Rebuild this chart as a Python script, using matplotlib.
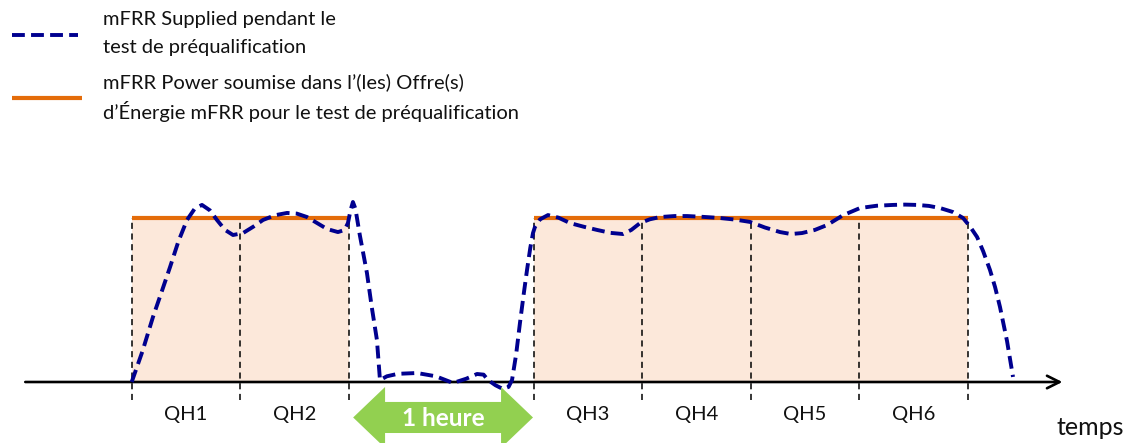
import matplotlib
matplotlib.use("Agg")
import matplotlib.pyplot as plt
from matplotlib.patches import Polygon, Rectangle
import numpy as np

# ---------------- data ----------------
qh_labels = ["QH1", "QH2", "QH3", "QH4", "QH5", "QH6"]
qh_starts = [0.0, 1.0, 3.7, 4.7, 5.7, 6.7]   # start of each quarter hour (QH units)
qh_width = 1.0
offer_power = 1.0                              # mFRR Power submitted in the offer
blocks = [(0.0, 2.0), (3.7, 7.7)]              # consecutive QHs with an offer

# mFRR supplied during the test
supplied_t = [0.0, 0.10, 0.196, 0.28, 0.353, 0.43, 0.509, 0.58, 0.647, 0.72, 0.785, 0.86, 0.933,
              1.025, 1.12, 1.209, 1.32, 1.43, 1.52, 1.614, 1.70, 1.798, 1.899, 1.96, 1.991,
              2.015, 2.037, 2.06, 2.10, 2.166, 2.21, 2.258, 2.286, 2.35, 2.45, 2.627, 2.80,
              2.959, 3.08, 3.180, 3.24, 3.281, 3.35, 3.419, 3.47, 3.502, 3.54, 3.575, 3.61,
              3.640, 3.67, 3.695, 3.713, 3.76, 3.833, 3.93, 4.036, 4.16, 4.285, 4.41, 4.524,
              4.60, 4.681, 4.77, 4.865, 5.0, 5.114, 5.26, 5.418, 5.56, 5.694, 5.83, 5.970,
              6.07, 6.172, 6.29, 6.403, 6.55, 6.706, 6.86, 7.010, 7.12, 7.231, 7.34, 7.443,
              7.56, 7.655, 7.72, 7.784, 7.84, 7.903, 7.95, 7.995, 8.06, 8.115]
supplied_p = [0.0, 0.19, 0.398, 0.56, 0.703, 0.86, 0.991, 1.06, 1.083, 1.05, 0.991, 0.93, 0.899,
              0.911, 0.95, 0.991, 1.02, 1.034, 1.03, 1.009, 0.975, 0.936, 0.917, 0.93, 0.972,
              1.05, 1.101, 1.06, 0.90, 0.667, 0.46, 0.257, 0.012, 0.035, 0.05, 0.055, 0.035,
              -0.006, 0.02, 0.049, 0.045, 0.012, -0.02, -0.043, -0.03, 0.012, 0.17, 0.361, 0.54,
              0.685, 0.82, 0.911, 0.948, 0.995, 1.021, 1.005, 0.972, 0.95, 0.930, 0.912, 0.905,
              0.93, 0.972, 0.995, 1.009, 1.015, 1.015, 1.01, 1.003, 0.993, 0.979, 0.945, 0.917,
              0.905, 0.911, 0.93, 0.960, 1.02, 1.064, 1.078, 1.083, 1.085, 1.083, 1.077, 1.064,
              1.04, 1.003, 0.95, 0.887, 0.80, 0.685, 0.58, 0.459, 0.25, 0.031]

legend_supplied = ["mFRR Supplied pendant le", "test de préqualification"]
legend_offer = ["mFRR Power soumise dans l\u2019(les) Offre(s)",
                "d\u2019Énergie mFRR pour le test de préqualification"]
gap_label = "1 heure"
xlabel = "temps"

# ---------------- style ----------------
BLUE = "#00008F"
ORANGE = "#E46C0A"
FILL = "#FCE8DA"
GREEN = "#92D050"
FONT = "Lato"
TXT = "#111111"

W, H = 1129, 443
fig = plt.figure(figsize=(W / 100, H / 100), dpi=100)
ax = fig.add_axes([0, 0, 1, 1])
ax.set_xlim(-1.2127, 9.183)
ax.set_ylim(-0.3731, 2.3364)
ax.axis("off")

# shaded blocks + offer line
for (a, b) in blocks:
    ax.add_patch(Rectangle((a, 0), b - a, offer_power, facecolor=FILL, edgecolor="none", zorder=1))
    ax.plot([a, b], [offer_power, offer_power], color=ORANGE, lw=3.0, solid_capstyle="butt", zorder=3)

# vertical dashed QH boundaries
edges = sorted(set([s for s in qh_starts] + [s + qh_width for s in qh_starts]))
for e in edges:
    ax.plot([e, e], [-0.11, offer_power], color="black", lw=1.1, dashes=(4, 3), zorder=2)

# time axis arrow
ax.annotate("", xy=(8.57, 0), xytext=(-0.98, 0),
            arrowprops=dict(arrowstyle="->,head_length=0.9,head_width=0.45", color="black",
                            lw=1.9, shrinkA=0, shrinkB=0), zorder=4)

# supplied curve
ax.plot(supplied_t, supplied_p, color=BLUE, lw=2.8, dashes=(3.3, 1.6),
        solid_joinstyle="round", zorder=5)

# QH labels
for lab, s in zip(qh_labels, qh_starts):
    ax.text(s + qh_width / 2, -0.196, lab, ha="center", va="center", fontsize=14.5,
            family=FONT, color=TXT)

ax.text(8.824, -0.324, xlabel, ha="center", va="baseline", fontsize=18, family=FONT, color=TXT)

# green double arrow across the gap
gl = blocks[0][1] + 0.039
gr = blocks[1][0] - 0.005
yc = -0.217
hh, bh, hl = 0.1865, 0.095, 0.294
verts = [(gl, yc), (gl + hl, yc + hh), (gl + hl, yc + bh), (gr - hl, yc + bh), (gr - hl, yc + hh),
         (gr, yc), (gr - hl, yc - hh), (gr - hl, yc - bh), (gl + hl, yc - bh), (gl + hl, yc - hh)]
ax.add_patch(Polygon(verts, closed=True, facecolor=GREEN, edgecolor="none", zorder=6))
ax.text((gl + gr) / 2, yc - 0.005, gap_label, ha="center", va="center", fontsize=17.5,
        fontweight="bold", color="white", family=FONT, zorder=7)

# legend (manual)
tx = 103 / W
ax.plot([12 / W, 78 / W], [1 - 35 / H] * 2, transform=ax.transAxes, color=BLUE, lw=2.8,
        dashes=(3.3, 1.6))
ax.plot([12 / W, 82 / W], [1 - 98 / H] * 2, transform=ax.transAxes, color=ORANGE, lw=3.0,
        solid_capstyle="butt")
for i, line in enumerate(legend_supplied):
    ax.text(tx, 1 - (19 + 28 * i) / H, line, transform=ax.transAxes, ha="left", va="center",
            fontsize=14.5, family=FONT, color=TXT)
for i, line in enumerate(legend_offer):
    ax.text(tx, 1 - (82 + 29 * i) / H, line, transform=ax.transAxes, ha="left", va="center",
            fontsize=14.5, family=FONT, color=TXT)

fig.savefig("out.png", dpi=100)
